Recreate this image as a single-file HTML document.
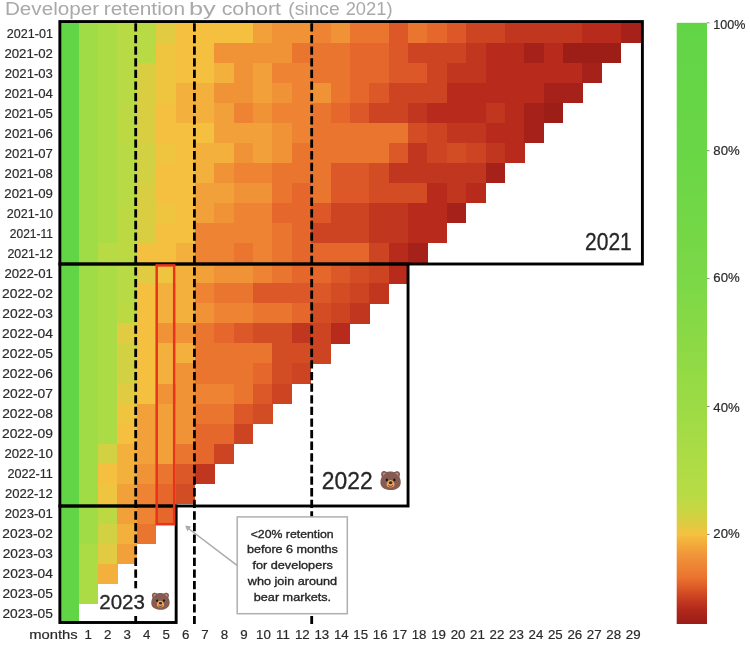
<!DOCTYPE html>
<html lang="en">
<head>
<meta charset="utf-8">
<title>Developer retention by cohort (since 2021)</title>
<style>
html,body{margin:0;padding:0;background:#fff;}
body{width:750px;height:646px;overflow:hidden;font-family:"Liberation Sans",sans-serif;}
svg{display:block;}
text{font-family:"Liberation Sans",sans-serif;}
.tick text{font-size:13.3px;fill:#2a2a2a;stroke:#2a2a2a;stroke-width:0.2px;}
.big{fill:#262626;stroke:#262626;stroke-width:0.3px;}
.big .emo{stroke:none;}
.emo{font-family:"Noto Color Emoji","Liberation Sans",sans-serif;}
.note text{font-size:11.7px;fill:#262626;stroke:#262626;stroke-width:0.35px;}
</style>
</head>
<body>
<svg width="750" height="646" viewBox="0 0 750 646">
<defs>
<linearGradient id="cb" x1="0" y1="0" x2="0" y2="1"><stop offset="0.0000" stop-color="#62d546"/><stop offset="0.2116" stop-color="#69d646"/><stop offset="0.4245" stop-color="#7bd846"/><stop offset="0.6374" stop-color="#9cdb45"/><stop offset="0.7438" stop-color="#b0dc45"/><stop offset="0.7854" stop-color="#b8db45"/><stop offset="0.8104" stop-color="#c9d643"/><stop offset="0.8312" stop-color="#dccc42"/><stop offset="0.8510" stop-color="#f5c13f"/><stop offset="0.8669" stop-color="#f3ab3b"/><stop offset="0.8852" stop-color="#f0953a"/><stop offset="0.9035" stop-color="#ee8434"/><stop offset="0.9218" stop-color="#eb742f"/><stop offset="0.9393" stop-color="#dc5a28"/><stop offset="0.9574" stop-color="#c83f20"/><stop offset="0.9750" stop-color="#b22a1b"/><stop offset="0.9933" stop-color="#a01f18"/><stop offset="1.0000" stop-color="#9c1e17"/></linearGradient>
</defs>
<rect width="750" height="646" fill="#ffffff"/>
<text y="15.2" font-size="17.6" fill="#a9a9a9"><tspan x="4.9" textLength="94.2" lengthAdjust="spacingAndGlyphs">Developer</tspan> <tspan x="103.8" textLength="81.2" lengthAdjust="spacingAndGlyphs">retention</tspan> <tspan x="188.9" textLength="26.8" lengthAdjust="spacingAndGlyphs">by</tspan> <tspan x="221.7" textLength="59.3" lengthAdjust="spacingAndGlyphs">cohort</tspan> <tspan x="288.3" textLength="51.4" lengthAdjust="spacingAndGlyphs">(since</tspan> <tspan x="345.7" textLength="46.8" lengthAdjust="spacingAndGlyphs">2021)</tspan></text>
<g shape-rendering="crispEdges">
<rect x="59.3" y="22.6" width="19.68" height="20.35" fill="#62d546"/><rect x="78.67" y="22.6" width="19.68" height="20.35" fill="#9fdc45"/><rect x="98.05" y="22.6" width="19.68" height="20.35" fill="#abdc45"/><rect x="117.42" y="22.6" width="39.05" height="20.35" fill="#b8db45"/><rect x="156.18" y="22.6" width="19.68" height="20.35" fill="#e0cb42"/><rect x="175.55" y="22.6" width="77.8" height="20.35" fill="#f5c03f"/><rect x="253.05" y="22.6" width="19.68" height="20.35" fill="#f2a03a"/><rect x="272.43" y="22.6" width="39.05" height="20.35" fill="#f09336"/><rect x="311.18" y="22.6" width="19.68" height="20.35" fill="#ee8433"/><rect x="330.55" y="22.6" width="19.68" height="20.35" fill="#f09336"/><rect x="349.93" y="22.6" width="39.05" height="20.35" fill="#ea752f"/><rect x="388.68" y="22.6" width="19.68" height="20.35" fill="#dc5828"/><rect x="408.05" y="22.6" width="19.68" height="20.35" fill="#ea752f"/><rect x="427.43" y="22.6" width="19.68" height="20.35" fill="#e6672c"/><rect x="446.8" y="22.6" width="19.68" height="20.35" fill="#dc5828"/><rect x="466.18" y="22.6" width="39.05" height="20.35" fill="#cc4421"/><rect x="504.93" y="22.6" width="77.8" height="20.35" fill="#c1361e"/><rect x="582.42" y="22.6" width="39.05" height="20.35" fill="#b82a1c"/><rect x="621.17" y="22.6" width="19.68" height="20.35" fill="#a52119"/><rect x="59.3" y="42.65" width="19.68" height="20.35" fill="#62d546"/><rect x="78.67" y="42.65" width="19.68" height="20.35" fill="#9fdc45"/><rect x="98.05" y="42.65" width="19.68" height="20.35" fill="#abdc45"/><rect x="117.42" y="42.65" width="39.05" height="20.35" fill="#b8db45"/><rect x="156.18" y="42.65" width="19.68" height="20.35" fill="#efc540"/><rect x="175.55" y="42.65" width="39.05" height="20.35" fill="#f5c03f"/><rect x="214.3" y="42.65" width="77.8" height="20.35" fill="#f09336"/><rect x="291.8" y="42.65" width="58.42" height="20.35" fill="#ea752f"/><rect x="349.93" y="42.65" width="39.05" height="20.35" fill="#e6672c"/><rect x="388.68" y="42.65" width="19.68" height="20.35" fill="#dc5828"/><rect x="408.05" y="42.65" width="58.42" height="20.35" fill="#cc4421"/><rect x="466.18" y="42.65" width="19.68" height="20.35" fill="#c1361e"/><rect x="485.55" y="42.65" width="39.05" height="20.35" fill="#b82a1c"/><rect x="524.3" y="42.65" width="19.68" height="20.35" fill="#a52119"/><rect x="543.67" y="42.65" width="19.68" height="20.35" fill="#b82a1c"/><rect x="563.05" y="42.65" width="58.42" height="20.35" fill="#9c1e17"/><rect x="59.3" y="62.7" width="19.68" height="20.35" fill="#62d546"/><rect x="78.67" y="62.7" width="19.68" height="20.35" fill="#9fdc45"/><rect x="98.05" y="62.7" width="19.68" height="20.35" fill="#abdc45"/><rect x="117.42" y="62.7" width="19.68" height="20.35" fill="#b8db45"/><rect x="136.8" y="62.7" width="19.68" height="20.35" fill="#d9ce42"/><rect x="156.18" y="62.7" width="19.68" height="20.35" fill="#efc540"/><rect x="175.55" y="62.7" width="39.05" height="20.35" fill="#f5c03f"/><rect x="214.3" y="62.7" width="19.68" height="20.35" fill="#f4b03c"/><rect x="233.68" y="62.7" width="19.68" height="20.35" fill="#f09336"/><rect x="253.05" y="62.7" width="19.68" height="20.35" fill="#f2a03a"/><rect x="272.43" y="62.7" width="39.05" height="20.35" fill="#ee8433"/><rect x="311.18" y="62.7" width="39.05" height="20.35" fill="#ea752f"/><rect x="349.93" y="62.7" width="39.05" height="20.35" fill="#e6672c"/><rect x="388.68" y="62.7" width="39.05" height="20.35" fill="#dc5828"/><rect x="427.43" y="62.7" width="19.68" height="20.35" fill="#cc4421"/><rect x="446.8" y="62.7" width="39.05" height="20.35" fill="#c1361e"/><rect x="485.55" y="62.7" width="97.17" height="20.35" fill="#b82a1c"/><rect x="582.42" y="62.7" width="19.68" height="20.35" fill="#a52119"/><rect x="59.3" y="82.75" width="19.68" height="20.35" fill="#62d546"/><rect x="78.67" y="82.75" width="19.68" height="20.35" fill="#9fdc45"/><rect x="98.05" y="82.75" width="19.68" height="20.35" fill="#abdc45"/><rect x="117.42" y="82.75" width="19.68" height="20.35" fill="#b8db45"/><rect x="136.8" y="82.75" width="19.68" height="20.35" fill="#d9ce42"/><rect x="156.18" y="82.75" width="19.68" height="20.35" fill="#efc540"/><rect x="175.55" y="82.75" width="39.05" height="20.35" fill="#f4b03c"/><rect x="214.3" y="82.75" width="39.05" height="20.35" fill="#f09336"/><rect x="253.05" y="82.75" width="19.68" height="20.35" fill="#f2a03a"/><rect x="272.43" y="82.75" width="19.68" height="20.35" fill="#f09336"/><rect x="291.8" y="82.75" width="19.68" height="20.35" fill="#ee8433"/><rect x="311.18" y="82.75" width="19.68" height="20.35" fill="#f09336"/><rect x="330.55" y="82.75" width="19.68" height="20.35" fill="#ea752f"/><rect x="349.93" y="82.75" width="19.68" height="20.35" fill="#e6672c"/><rect x="369.3" y="82.75" width="19.68" height="20.35" fill="#dc5828"/><rect x="388.68" y="82.75" width="58.42" height="20.35" fill="#cc4421"/><rect x="446.8" y="82.75" width="97.17" height="20.35" fill="#b82a1c"/><rect x="543.67" y="82.75" width="39.05" height="20.35" fill="#a52119"/><rect x="59.3" y="102.8" width="19.68" height="20.35" fill="#62d546"/><rect x="78.67" y="102.8" width="19.68" height="20.35" fill="#9fdc45"/><rect x="98.05" y="102.8" width="19.68" height="20.35" fill="#abdc45"/><rect x="117.42" y="102.8" width="19.68" height="20.35" fill="#bcd944"/><rect x="136.8" y="102.8" width="19.68" height="20.35" fill="#d9ce42"/><rect x="156.18" y="102.8" width="19.68" height="20.35" fill="#f5c03f"/><rect x="175.55" y="102.8" width="39.05" height="20.35" fill="#f4b03c"/><rect x="214.3" y="102.8" width="19.68" height="20.35" fill="#f2a03a"/><rect x="233.68" y="102.8" width="19.68" height="20.35" fill="#ee8433"/><rect x="253.05" y="102.8" width="19.68" height="20.35" fill="#f09336"/><rect x="272.43" y="102.8" width="39.05" height="20.35" fill="#ee8433"/><rect x="311.18" y="102.8" width="19.68" height="20.35" fill="#ea752f"/><rect x="330.55" y="102.8" width="19.68" height="20.35" fill="#e6672c"/><rect x="349.93" y="102.8" width="19.68" height="20.35" fill="#dc5828"/><rect x="369.3" y="102.8" width="39.05" height="20.35" fill="#cc4421"/><rect x="408.05" y="102.8" width="19.68" height="20.35" fill="#c1361e"/><rect x="427.43" y="102.8" width="58.42" height="20.35" fill="#b82a1c"/><rect x="485.55" y="102.8" width="19.68" height="20.35" fill="#c1361e"/><rect x="504.93" y="102.8" width="19.68" height="20.35" fill="#b82a1c"/><rect x="524.3" y="102.8" width="19.68" height="20.35" fill="#a52119"/><rect x="543.67" y="102.8" width="19.68" height="20.35" fill="#9c1e17"/><rect x="59.3" y="122.85" width="19.68" height="20.35" fill="#62d546"/><rect x="78.67" y="122.85" width="19.68" height="20.35" fill="#9fdc45"/><rect x="98.05" y="122.85" width="19.68" height="20.35" fill="#abdc45"/><rect x="117.42" y="122.85" width="19.68" height="20.35" fill="#bcd944"/><rect x="136.8" y="122.85" width="19.68" height="20.35" fill="#d9ce42"/><rect x="156.18" y="122.85" width="58.42" height="20.35" fill="#f5c03f"/><rect x="214.3" y="122.85" width="58.42" height="20.35" fill="#f2a03a"/><rect x="272.43" y="122.85" width="19.68" height="20.35" fill="#f09336"/><rect x="291.8" y="122.85" width="19.68" height="20.35" fill="#ee8433"/><rect x="311.18" y="122.85" width="97.17" height="20.35" fill="#ea752f"/><rect x="408.05" y="122.85" width="19.68" height="20.35" fill="#d34d24"/><rect x="427.43" y="122.85" width="19.68" height="20.35" fill="#cc4421"/><rect x="446.8" y="122.85" width="39.05" height="20.35" fill="#c1361e"/><rect x="485.55" y="122.85" width="39.05" height="20.35" fill="#b82a1c"/><rect x="524.3" y="122.85" width="19.68" height="20.35" fill="#a52119"/><rect x="59.3" y="142.9" width="19.68" height="20.35" fill="#62d546"/><rect x="78.67" y="142.9" width="19.68" height="20.35" fill="#9fdc45"/><rect x="98.05" y="142.9" width="19.68" height="20.35" fill="#abdc45"/><rect x="117.42" y="142.9" width="19.68" height="20.35" fill="#b8db45"/><rect x="136.8" y="142.9" width="19.68" height="20.35" fill="#d2d043"/><rect x="156.18" y="142.9" width="19.68" height="20.35" fill="#efc540"/><rect x="175.55" y="142.9" width="19.68" height="20.35" fill="#f5c03f"/><rect x="194.93" y="142.9" width="39.05" height="20.35" fill="#f4b03c"/><rect x="233.68" y="142.9" width="19.68" height="20.35" fill="#f09336"/><rect x="253.05" y="142.9" width="19.68" height="20.35" fill="#f2a03a"/><rect x="272.43" y="142.9" width="19.68" height="20.35" fill="#f09336"/><rect x="291.8" y="142.9" width="97.17" height="20.35" fill="#ea752f"/><rect x="388.68" y="142.9" width="19.68" height="20.35" fill="#dc5828"/><rect x="408.05" y="142.9" width="19.68" height="20.35" fill="#c1361e"/><rect x="427.43" y="142.9" width="19.68" height="20.35" fill="#cc4421"/><rect x="446.8" y="142.9" width="19.68" height="20.35" fill="#d34d24"/><rect x="466.18" y="142.9" width="19.68" height="20.35" fill="#cc4421"/><rect x="485.55" y="142.9" width="19.68" height="20.35" fill="#c1361e"/><rect x="504.93" y="142.9" width="19.68" height="20.35" fill="#b82a1c"/><rect x="59.3" y="162.95" width="19.68" height="20.35" fill="#62d546"/><rect x="78.67" y="162.95" width="19.68" height="20.35" fill="#9fdc45"/><rect x="98.05" y="162.95" width="19.68" height="20.35" fill="#abdc45"/><rect x="117.42" y="162.95" width="19.68" height="20.35" fill="#b8db45"/><rect x="136.8" y="162.95" width="19.68" height="20.35" fill="#d2d043"/><rect x="156.18" y="162.95" width="39.05" height="20.35" fill="#f5c03f"/><rect x="194.93" y="162.95" width="19.68" height="20.35" fill="#f4b03c"/><rect x="214.3" y="162.95" width="19.68" height="20.35" fill="#f09336"/><rect x="233.68" y="162.95" width="39.05" height="20.35" fill="#ee8433"/><rect x="272.43" y="162.95" width="58.42" height="20.35" fill="#ea752f"/><rect x="330.55" y="162.95" width="39.05" height="20.35" fill="#dc5828"/><rect x="369.3" y="162.95" width="19.68" height="20.35" fill="#d34d24"/><rect x="388.68" y="162.95" width="97.17" height="20.35" fill="#c1361e"/><rect x="485.55" y="162.95" width="19.68" height="20.35" fill="#a52119"/><rect x="59.3" y="183" width="19.68" height="20.35" fill="#62d546"/><rect x="78.67" y="183" width="19.68" height="20.35" fill="#9fdc45"/><rect x="98.05" y="183" width="19.68" height="20.35" fill="#abdc45"/><rect x="117.42" y="183" width="19.68" height="20.35" fill="#b8db45"/><rect x="136.8" y="183" width="19.68" height="20.35" fill="#d9ce42"/><rect x="156.18" y="183" width="39.05" height="20.35" fill="#f5c03f"/><rect x="194.93" y="183" width="39.05" height="20.35" fill="#f2a03a"/><rect x="233.68" y="183" width="39.05" height="20.35" fill="#f09336"/><rect x="272.43" y="183" width="19.68" height="20.35" fill="#ea752f"/><rect x="291.8" y="183" width="19.68" height="20.35" fill="#e6672c"/><rect x="311.18" y="183" width="19.68" height="20.35" fill="#ea752f"/><rect x="330.55" y="183" width="39.05" height="20.35" fill="#dc5828"/><rect x="369.3" y="183" width="58.42" height="20.35" fill="#d34d24"/><rect x="427.43" y="183" width="19.68" height="20.35" fill="#b82a1c"/><rect x="446.8" y="183" width="19.68" height="20.35" fill="#c1361e"/><rect x="466.18" y="183" width="19.68" height="20.35" fill="#b82a1c"/><rect x="59.3" y="203.05" width="19.68" height="20.35" fill="#62d546"/><rect x="78.67" y="203.05" width="19.68" height="20.35" fill="#9fdc45"/><rect x="98.05" y="203.05" width="19.68" height="20.35" fill="#abdc45"/><rect x="117.42" y="203.05" width="19.68" height="20.35" fill="#bcd944"/><rect x="136.8" y="203.05" width="19.68" height="20.35" fill="#d9ce42"/><rect x="156.18" y="203.05" width="19.68" height="20.35" fill="#efc540"/><rect x="175.55" y="203.05" width="19.68" height="20.35" fill="#f5c03f"/><rect x="194.93" y="203.05" width="19.68" height="20.35" fill="#f2a03a"/><rect x="214.3" y="203.05" width="19.68" height="20.35" fill="#f09336"/><rect x="233.68" y="203.05" width="39.05" height="20.35" fill="#ee8433"/><rect x="272.43" y="203.05" width="39.05" height="20.35" fill="#e6672c"/><rect x="311.18" y="203.05" width="19.68" height="20.35" fill="#dc5828"/><rect x="330.55" y="203.05" width="39.05" height="20.35" fill="#cc4421"/><rect x="369.3" y="203.05" width="39.05" height="20.35" fill="#c1361e"/><rect x="408.05" y="203.05" width="39.05" height="20.35" fill="#b82a1c"/><rect x="446.8" y="203.05" width="19.68" height="20.35" fill="#a52119"/><rect x="59.3" y="223.1" width="19.68" height="20.35" fill="#62d546"/><rect x="78.67" y="223.1" width="19.68" height="20.35" fill="#9fdc45"/><rect x="98.05" y="223.1" width="19.68" height="20.35" fill="#abdc45"/><rect x="117.42" y="223.1" width="19.68" height="20.35" fill="#bcd944"/><rect x="136.8" y="223.1" width="19.68" height="20.35" fill="#d9ce42"/><rect x="156.18" y="223.1" width="39.05" height="20.35" fill="#f5c03f"/><rect x="194.93" y="223.1" width="77.8" height="20.35" fill="#ee8433"/><rect x="272.43" y="223.1" width="19.68" height="20.35" fill="#ea752f"/><rect x="291.8" y="223.1" width="19.68" height="20.35" fill="#e6672c"/><rect x="311.18" y="223.1" width="58.42" height="20.35" fill="#cc4421"/><rect x="369.3" y="223.1" width="39.05" height="20.35" fill="#c1361e"/><rect x="408.05" y="223.1" width="39.05" height="20.35" fill="#b82a1c"/><rect x="59.3" y="243.15" width="19.68" height="20.35" fill="#62d546"/><rect x="78.67" y="243.15" width="19.68" height="20.35" fill="#9fdc45"/><rect x="98.05" y="243.15" width="19.68" height="20.35" fill="#b8db45"/><rect x="117.42" y="243.15" width="19.68" height="20.35" fill="#bcd944"/><rect x="136.8" y="243.15" width="39.05" height="20.35" fill="#f5c03f"/><rect x="175.55" y="243.15" width="19.68" height="20.35" fill="#f4b03c"/><rect x="194.93" y="243.15" width="39.05" height="20.35" fill="#ee8433"/><rect x="233.68" y="243.15" width="19.68" height="20.35" fill="#ea752f"/><rect x="253.05" y="243.15" width="19.68" height="20.35" fill="#ee8433"/><rect x="272.43" y="243.15" width="19.68" height="20.35" fill="#ea752f"/><rect x="291.8" y="243.15" width="77.8" height="20.35" fill="#e6672c"/><rect x="369.3" y="243.15" width="19.68" height="20.35" fill="#cc4421"/><rect x="388.68" y="243.15" width="19.68" height="20.35" fill="#b82a1c"/><rect x="408.05" y="243.15" width="19.68" height="20.35" fill="#a52119"/><rect x="59.3" y="263.2" width="19.68" height="20.35" fill="#62d546"/><rect x="78.67" y="263.2" width="19.68" height="20.35" fill="#9fdc45"/><rect x="98.05" y="263.2" width="19.68" height="20.35" fill="#abdc45"/><rect x="117.42" y="263.2" width="19.68" height="20.35" fill="#b8db45"/><rect x="136.8" y="263.2" width="19.68" height="20.35" fill="#e0cb42"/><rect x="156.18" y="263.2" width="19.68" height="20.35" fill="#efc540"/><rect x="175.55" y="263.2" width="19.68" height="20.35" fill="#f4b03c"/><rect x="194.93" y="263.2" width="19.68" height="20.35" fill="#f2a03a"/><rect x="214.3" y="263.2" width="39.05" height="20.35" fill="#f09336"/><rect x="253.05" y="263.2" width="19.68" height="20.35" fill="#ee8433"/><rect x="272.43" y="263.2" width="19.68" height="20.35" fill="#ea752f"/><rect x="291.8" y="263.2" width="39.05" height="20.35" fill="#e6672c"/><rect x="330.55" y="263.2" width="19.68" height="20.35" fill="#dc5828"/><rect x="349.93" y="263.2" width="19.68" height="20.35" fill="#d34d24"/><rect x="369.3" y="263.2" width="19.68" height="20.35" fill="#cc4421"/><rect x="388.68" y="263.2" width="19.68" height="20.35" fill="#b82a1c"/><rect x="59.3" y="283.25" width="19.68" height="20.35" fill="#62d546"/><rect x="78.67" y="283.25" width="19.68" height="20.35" fill="#9fdc45"/><rect x="98.05" y="283.25" width="19.68" height="20.35" fill="#abdc45"/><rect x="117.42" y="283.25" width="19.68" height="20.35" fill="#b8db45"/><rect x="136.8" y="283.25" width="19.68" height="20.35" fill="#f5c03f"/><rect x="156.18" y="283.25" width="39.05" height="20.35" fill="#f4b03c"/><rect x="194.93" y="283.25" width="19.68" height="20.35" fill="#ee8433"/><rect x="214.3" y="283.25" width="39.05" height="20.35" fill="#ea752f"/><rect x="253.05" y="283.25" width="77.8" height="20.35" fill="#dc5828"/><rect x="330.55" y="283.25" width="19.68" height="20.35" fill="#d34d24"/><rect x="349.93" y="283.25" width="19.68" height="20.35" fill="#cc4421"/><rect x="369.3" y="283.25" width="19.68" height="20.35" fill="#c1361e"/><rect x="59.3" y="303.3" width="19.68" height="20.35" fill="#62d546"/><rect x="78.67" y="303.3" width="19.68" height="20.35" fill="#9fdc45"/><rect x="98.05" y="303.3" width="19.68" height="20.35" fill="#abdc45"/><rect x="117.42" y="303.3" width="19.68" height="20.35" fill="#bcd944"/><rect x="136.8" y="303.3" width="19.68" height="20.35" fill="#f5c03f"/><rect x="156.18" y="303.3" width="39.05" height="20.35" fill="#f4b03c"/><rect x="194.93" y="303.3" width="19.68" height="20.35" fill="#f09336"/><rect x="214.3" y="303.3" width="39.05" height="20.35" fill="#ee8433"/><rect x="253.05" y="303.3" width="39.05" height="20.35" fill="#ea752f"/><rect x="291.8" y="303.3" width="19.68" height="20.35" fill="#e6672c"/><rect x="311.18" y="303.3" width="19.68" height="20.35" fill="#d34d24"/><rect x="330.55" y="303.3" width="19.68" height="20.35" fill="#cc4421"/><rect x="349.93" y="303.3" width="19.68" height="20.35" fill="#c1361e"/><rect x="59.3" y="323.35" width="19.68" height="20.35" fill="#62d546"/><rect x="78.67" y="323.35" width="19.68" height="20.35" fill="#9fdc45"/><rect x="98.05" y="323.35" width="19.68" height="20.35" fill="#abdc45"/><rect x="117.42" y="323.35" width="19.68" height="20.35" fill="#e0cb42"/><rect x="136.8" y="323.35" width="19.68" height="20.35" fill="#f5c03f"/><rect x="156.18" y="323.35" width="39.05" height="20.35" fill="#f09336"/><rect x="194.93" y="323.35" width="19.68" height="20.35" fill="#ea752f"/><rect x="214.3" y="323.35" width="19.68" height="20.35" fill="#e6672c"/><rect x="233.68" y="323.35" width="19.68" height="20.35" fill="#dc5828"/><rect x="253.05" y="323.35" width="39.05" height="20.35" fill="#d34d24"/><rect x="291.8" y="323.35" width="19.68" height="20.35" fill="#c1361e"/><rect x="311.18" y="323.35" width="19.68" height="20.35" fill="#cc4421"/><rect x="330.55" y="323.35" width="19.68" height="20.35" fill="#b82a1c"/><rect x="59.3" y="343.4" width="19.68" height="20.35" fill="#62d546"/><rect x="78.67" y="343.4" width="19.68" height="20.35" fill="#9fdc45"/><rect x="98.05" y="343.4" width="19.68" height="20.35" fill="#abdc45"/><rect x="117.42" y="343.4" width="19.68" height="20.35" fill="#d2d043"/><rect x="136.8" y="343.4" width="19.68" height="20.35" fill="#f5c03f"/><rect x="156.18" y="343.4" width="39.05" height="20.35" fill="#f4b03c"/><rect x="194.93" y="343.4" width="77.8" height="20.35" fill="#ea752f"/><rect x="272.43" y="343.4" width="39.05" height="20.35" fill="#d34d24"/><rect x="311.18" y="343.4" width="19.68" height="20.35" fill="#cc4421"/><rect x="59.3" y="363.45" width="19.68" height="20.35" fill="#62d546"/><rect x="78.67" y="363.45" width="19.68" height="20.35" fill="#9fdc45"/><rect x="98.05" y="363.45" width="19.68" height="20.35" fill="#abdc45"/><rect x="117.42" y="363.45" width="19.68" height="20.35" fill="#d2d043"/><rect x="136.8" y="363.45" width="19.68" height="20.35" fill="#f5c03f"/><rect x="156.18" y="363.45" width="19.68" height="20.35" fill="#f4b03c"/><rect x="175.55" y="363.45" width="19.68" height="20.35" fill="#f09336"/><rect x="194.93" y="363.45" width="58.42" height="20.35" fill="#ea752f"/><rect x="253.05" y="363.45" width="19.68" height="20.35" fill="#e6672c"/><rect x="272.43" y="363.45" width="19.68" height="20.35" fill="#d34d24"/><rect x="291.8" y="363.45" width="19.68" height="20.35" fill="#cc4421"/><rect x="59.3" y="383.5" width="19.68" height="20.35" fill="#62d546"/><rect x="78.67" y="383.5" width="19.68" height="20.35" fill="#9fdc45"/><rect x="98.05" y="383.5" width="19.68" height="20.35" fill="#abdc45"/><rect x="117.42" y="383.5" width="19.68" height="20.35" fill="#e0cb42"/><rect x="136.8" y="383.5" width="19.68" height="20.35" fill="#f5c03f"/><rect x="156.18" y="383.5" width="39.05" height="20.35" fill="#f09336"/><rect x="194.93" y="383.5" width="39.05" height="20.35" fill="#ee8433"/><rect x="233.68" y="383.5" width="19.68" height="20.35" fill="#ea752f"/><rect x="253.05" y="383.5" width="19.68" height="20.35" fill="#dc5828"/><rect x="272.43" y="383.5" width="19.68" height="20.35" fill="#cc4421"/><rect x="59.3" y="403.55" width="19.68" height="20.35" fill="#62d546"/><rect x="78.67" y="403.55" width="19.68" height="20.35" fill="#9fdc45"/><rect x="98.05" y="403.55" width="19.68" height="20.35" fill="#abdc45"/><rect x="117.42" y="403.55" width="19.68" height="20.35" fill="#efc540"/><rect x="136.8" y="403.55" width="39.05" height="20.35" fill="#f2a03a"/><rect x="175.55" y="403.55" width="19.68" height="20.35" fill="#f09336"/><rect x="194.93" y="403.55" width="39.05" height="20.35" fill="#ea752f"/><rect x="233.68" y="403.55" width="19.68" height="20.35" fill="#dc5828"/><rect x="253.05" y="403.55" width="19.68" height="20.35" fill="#d34d24"/><rect x="59.3" y="423.6" width="19.68" height="20.35" fill="#62d546"/><rect x="78.67" y="423.6" width="19.68" height="20.35" fill="#9fdc45"/><rect x="98.05" y="423.6" width="19.68" height="20.35" fill="#abdc45"/><rect x="117.42" y="423.6" width="19.68" height="20.35" fill="#f5c03f"/><rect x="136.8" y="423.6" width="39.05" height="20.35" fill="#f2a03a"/><rect x="175.55" y="423.6" width="19.68" height="20.35" fill="#f09336"/><rect x="194.93" y="423.6" width="39.05" height="20.35" fill="#e6672c"/><rect x="233.68" y="423.6" width="19.68" height="20.35" fill="#cc4421"/><rect x="59.3" y="443.65" width="19.68" height="20.35" fill="#62d546"/><rect x="78.67" y="443.65" width="19.68" height="20.35" fill="#9fdc45"/><rect x="98.05" y="443.65" width="19.68" height="20.35" fill="#d2d043"/><rect x="117.42" y="443.65" width="19.68" height="20.35" fill="#f4b03c"/><rect x="136.8" y="443.65" width="39.05" height="20.35" fill="#f2a03a"/><rect x="175.55" y="443.65" width="19.68" height="20.35" fill="#ea752f"/><rect x="194.93" y="443.65" width="19.68" height="20.35" fill="#e6672c"/><rect x="214.3" y="443.65" width="19.68" height="20.35" fill="#cc4421"/><rect x="59.3" y="463.7" width="19.68" height="20.35" fill="#62d546"/><rect x="78.67" y="463.7" width="19.68" height="20.35" fill="#9fdc45"/><rect x="98.05" y="463.7" width="19.68" height="20.35" fill="#f5c03f"/><rect x="117.42" y="463.7" width="19.68" height="20.35" fill="#f4b03c"/><rect x="136.8" y="463.7" width="19.68" height="20.35" fill="#f09336"/><rect x="156.18" y="463.7" width="19.68" height="20.35" fill="#ea752f"/><rect x="175.55" y="463.7" width="19.68" height="20.35" fill="#dc5828"/><rect x="194.93" y="463.7" width="19.68" height="20.35" fill="#c1361e"/><rect x="59.3" y="483.75" width="19.68" height="20.35" fill="#62d546"/><rect x="78.67" y="483.75" width="19.68" height="20.35" fill="#9fdc45"/><rect x="98.05" y="483.75" width="19.68" height="20.35" fill="#efc540"/><rect x="117.42" y="483.75" width="19.68" height="20.35" fill="#f2a03a"/><rect x="136.8" y="483.75" width="19.68" height="20.35" fill="#ee8433"/><rect x="156.18" y="483.75" width="19.68" height="20.35" fill="#e6672c"/><rect x="175.55" y="483.75" width="19.68" height="20.35" fill="#d34d24"/><rect x="59.3" y="503.8" width="19.68" height="20.35" fill="#62d546"/><rect x="78.67" y="503.8" width="19.68" height="20.35" fill="#9fdc45"/><rect x="98.05" y="503.8" width="19.68" height="20.35" fill="#bcd944"/><rect x="117.42" y="503.8" width="19.68" height="20.35" fill="#f2a03a"/><rect x="136.8" y="503.8" width="19.68" height="20.35" fill="#ee8433"/><rect x="156.18" y="503.8" width="19.68" height="20.35" fill="#e6672c"/><rect x="59.3" y="523.85" width="19.68" height="20.35" fill="#62d546"/><rect x="78.67" y="523.85" width="19.68" height="20.35" fill="#9fdc45"/><rect x="98.05" y="523.85" width="19.68" height="20.35" fill="#d2d043"/><rect x="117.42" y="523.85" width="19.68" height="20.35" fill="#f4b03c"/><rect x="136.8" y="523.85" width="19.68" height="20.35" fill="#ea752f"/><rect x="59.3" y="543.9" width="19.68" height="20.35" fill="#62d546"/><rect x="78.67" y="543.9" width="19.68" height="20.35" fill="#abdc45"/><rect x="98.05" y="543.9" width="19.68" height="20.35" fill="#e0cb42"/><rect x="117.42" y="543.9" width="19.68" height="20.35" fill="#f2a03a"/><rect x="59.3" y="563.95" width="19.68" height="20.35" fill="#62d546"/><rect x="78.67" y="563.95" width="19.68" height="20.35" fill="#abdc45"/><rect x="98.05" y="563.95" width="19.68" height="20.35" fill="#f4b03c"/><rect x="59.3" y="584" width="19.68" height="20.35" fill="#62d546"/><rect x="78.67" y="584" width="19.68" height="20.35" fill="#abdc45"/><rect x="59.3" y="604.05" width="19.68" height="20.35" fill="#62d546"/>
</g>
<g fill="none" stroke="#000" stroke-width="2.8" stroke-dasharray="8.3 3.32">
<line x1="135.7" y1="23.3" x2="135.7" y2="624"/>
<line x1="194.4" y1="23.3" x2="194.4" y2="624"/>
<line x1="311.7" y1="23.3" x2="311.7" y2="624"/>
</g>
<g fill="none" stroke="#000" stroke-width="2.9">
<rect x="59.85" y="21.55" width="582.55" height="242.45"/>
<rect x="59.85" y="264" width="348.2" height="242"/>
<rect x="59.85" y="506" width="116.3" height="116.5"/>
</g>
<rect x="156.7" y="265.4" width="17.5" height="258.8" fill="none" stroke="#e8341c" stroke-width="2.5"/>
<text class="big" x="585" y="249.6" font-size="23.4" textLength="46.8" lengthAdjust="spacingAndGlyphs">2021</text>
<text class="big" x="321.8" y="488.9" font-size="23.6"><tspan textLength="50.8" lengthAdjust="spacingAndGlyphs">2022</tspan><tspan class="emo" x="379.6" y="487.3" font-size="18.6">🐻</tspan></text>
<rect x="98.4" y="588.3" width="73.6" height="27.7" fill="#fff"/>
<text class="big" x="99.3" y="609.1" font-size="20.2"><tspan textLength="45.6" lengthAdjust="spacingAndGlyphs">2023</tspan><tspan class="emo" x="150.8" y="607.2" font-size="16.8">🐻</tspan></text>
<g class="note">
<line x1="237" y1="565.4" x2="186.5" y2="527" stroke="#aaaaaa" stroke-width="1.5"/>
<path d="M185.2 525.6 L191.2 526.6 L187.4 531.2 Z" fill="#aaaaaa"/>
<rect x="237.2" y="516.9" width="110.1" height="96.8" fill="#fff" stroke="#b0b0b0" stroke-width="1.5"/>
<text x="250.7" y="537.7" textLength="82.9" lengthAdjust="spacingAndGlyphs">&lt;20% retention</text>
<text x="246.9" y="553.45" textLength="91.0" lengthAdjust="spacingAndGlyphs">before 6 months</text>
<text x="252.4" y="569.2" textLength="80.4" lengthAdjust="spacingAndGlyphs">for developers</text>
<text x="247.8" y="584.95" textLength="89.3" lengthAdjust="spacingAndGlyphs">who join around</text>
<text x="253.8" y="600.7" textLength="77.3" lengthAdjust="spacingAndGlyphs">bear markets.</text>
</g>
<g class="tick">
<text x="6.83" y="37.9" textLength="46.07" lengthAdjust="spacingAndGlyphs">2021-01</text><text x="4.39" y="57.9" textLength="48.51" lengthAdjust="spacingAndGlyphs">2021-02</text><text x="4.81" y="77.9" textLength="48.09" lengthAdjust="spacingAndGlyphs">2021-03</text><text x="4.55" y="97.9" textLength="48.35" lengthAdjust="spacingAndGlyphs">2021-04</text><text x="4.43" y="117.9" textLength="48.47" lengthAdjust="spacingAndGlyphs">2021-05</text><text x="4.61" y="137.9" textLength="48.29" lengthAdjust="spacingAndGlyphs">2021-06</text><text x="4.85" y="157.9" textLength="48.05" lengthAdjust="spacingAndGlyphs">2021-07</text><text x="4.61" y="177.9" textLength="48.29" lengthAdjust="spacingAndGlyphs">2021-08</text><text x="4.35" y="197.9" textLength="48.55" lengthAdjust="spacingAndGlyphs">2021-09</text><text x="6.83" y="217.9" textLength="46.07" lengthAdjust="spacingAndGlyphs">2021-10</text><text x="9.82" y="237.9" textLength="43.08" lengthAdjust="spacingAndGlyphs">2021-11</text><text x="7.39" y="257.9" textLength="45.51" lengthAdjust="spacingAndGlyphs">2021-12</text><text x="4.39" y="277.9" textLength="48.51" lengthAdjust="spacingAndGlyphs">2022-01</text><text x="1.96" y="297.9" textLength="50.94" lengthAdjust="spacingAndGlyphs">2022-02</text><text x="2.37" y="317.9" textLength="50.53" lengthAdjust="spacingAndGlyphs">2022-03</text><text x="2.12" y="337.9" textLength="50.78" lengthAdjust="spacingAndGlyphs">2022-04</text><text x="2" y="357.9" textLength="50.9" lengthAdjust="spacingAndGlyphs">2022-05</text><text x="2.17" y="377.9" textLength="50.73" lengthAdjust="spacingAndGlyphs">2022-06</text><text x="2.41" y="397.9" textLength="50.49" lengthAdjust="spacingAndGlyphs">2022-07</text><text x="2.17" y="417.9" textLength="50.73" lengthAdjust="spacingAndGlyphs">2022-08</text><text x="1.92" y="437.9" textLength="50.98" lengthAdjust="spacingAndGlyphs">2022-09</text><text x="4.39" y="457.9" textLength="48.51" lengthAdjust="spacingAndGlyphs">2022-10</text><text x="7.39" y="477.9" textLength="45.51" lengthAdjust="spacingAndGlyphs">2022-11</text><text x="4.95" y="497.9" textLength="47.95" lengthAdjust="spacingAndGlyphs">2022-12</text><text x="4.81" y="517.9" textLength="48.09" lengthAdjust="spacingAndGlyphs">2023-01</text><text x="2.37" y="537.9" textLength="50.53" lengthAdjust="spacingAndGlyphs">2023-02</text><text x="2.79" y="557.9" textLength="50.11" lengthAdjust="spacingAndGlyphs">2023-03</text><text x="2.53" y="577.9" textLength="50.37" lengthAdjust="spacingAndGlyphs">2023-04</text><text x="2.41" y="597.9" textLength="50.49" lengthAdjust="spacingAndGlyphs">2023-05</text><text x="2.41" y="617.9" textLength="50.49" lengthAdjust="spacingAndGlyphs">2023-05</text>
<text x="29.2" y="639" textLength="48.4" lengthAdjust="spacingAndGlyphs">months</text><text x="88.31" y="639" text-anchor="middle">1</text><text x="107.77" y="639" text-anchor="middle">2</text><text x="127.23" y="639" text-anchor="middle">3</text><text x="146.69" y="639" text-anchor="middle">4</text><text x="166.15" y="639" text-anchor="middle">5</text><text x="185.61" y="639" text-anchor="middle">6</text><text x="205.07" y="639" text-anchor="middle">7</text><text x="224.53" y="639" text-anchor="middle">8</text><text x="243.99" y="639" text-anchor="middle">9</text><text x="263.45" y="639" text-anchor="middle">10</text><text x="282.91" y="639" text-anchor="middle">11</text><text x="302.37" y="639" text-anchor="middle">12</text><text x="321.83" y="639" text-anchor="middle">13</text><text x="341.29" y="639" text-anchor="middle">14</text><text x="360.75" y="639" text-anchor="middle">15</text><text x="380.21" y="639" text-anchor="middle">16</text><text x="399.67" y="639" text-anchor="middle">17</text><text x="419.13" y="639" text-anchor="middle">18</text><text x="438.59" y="639" text-anchor="middle">19</text><text x="458.05" y="639" text-anchor="middle">20</text><text x="477.51" y="639" text-anchor="middle">21</text><text x="496.97" y="639" text-anchor="middle">22</text><text x="516.43" y="639" text-anchor="middle">23</text><text x="535.89" y="639" text-anchor="middle">24</text><text x="555.35" y="639" text-anchor="middle">25</text><text x="574.81" y="639" text-anchor="middle">26</text><text x="594.27" y="639" text-anchor="middle">27</text><text x="613.73" y="639" text-anchor="middle">28</text><text x="633.19" y="639" text-anchor="middle">29</text>
</g>
<rect x="676.7" y="22.8" width="30.3" height="601.2" fill="url(#cb)"/>
<g class="tick">
<line x1="707" x2="709.5" y1="22.8" y2="22.8" stroke="#888" stroke-width="1"/><text x="713.3" y="28.8" textLength="32.2" lengthAdjust="spacingAndGlyphs">100%</text><line x1="707" x2="709.5" y1="150.7" y2="150.7" stroke="#888" stroke-width="1"/><text x="713.3" y="154.8" textLength="26.4" lengthAdjust="spacingAndGlyphs">80%</text><line x1="707" x2="709.5" y1="278.6" y2="278.6" stroke="#888" stroke-width="1"/><text x="713.3" y="281.8" textLength="26.4" lengthAdjust="spacingAndGlyphs">60%</text><line x1="707" x2="709.5" y1="406.5" y2="406.5" stroke="#888" stroke-width="1"/><text x="713.3" y="411.8" textLength="26.4" lengthAdjust="spacingAndGlyphs">40%</text><line x1="707" x2="709.5" y1="534.4" y2="534.4" stroke="#888" stroke-width="1"/><text x="713.3" y="538.4" textLength="26.4" lengthAdjust="spacingAndGlyphs">20%</text>
</g>
</svg>
</body>
</html>
